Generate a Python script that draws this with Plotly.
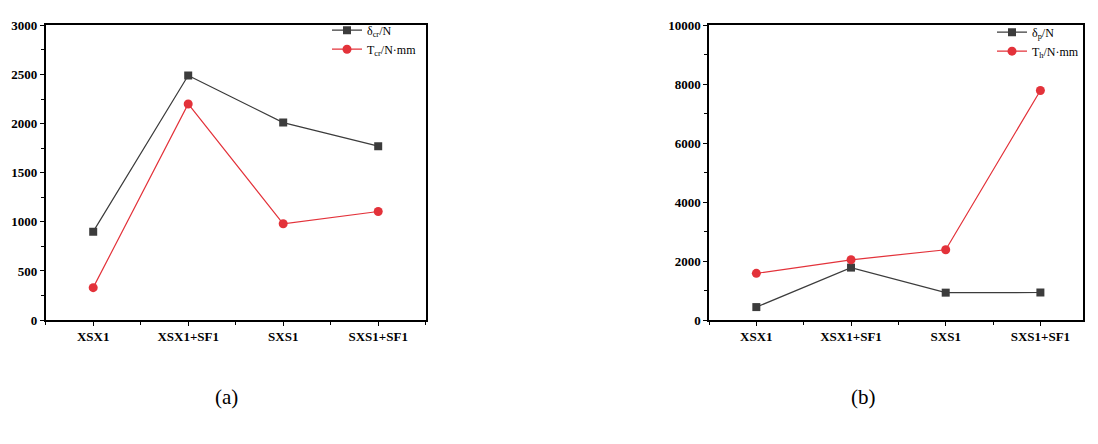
import plotly.graph_objects as go

categories = ["XSX1", "XSX1+SF1", "SXS1", "SXS1+SF1"]
a_delta_cr = [900, 2490, 2010, 1770]
a_T_cr = [330, 2200, 980, 1105]
b_delta_p = [440, 1780, 930, 935]
b_T_h = [1585, 2045, 2385, 7790]

names_a = ["δ<sub>cr</sub>/N", "T<sub>cr</sub>/N·mm"]
names_b = ["δ<sub>p</sub>/N", "T<sub>h</sub>/N·mm"]

BLACK = "#3c3c3c"
RED = "#e3323a"
FONT = "Liberation Serif"

xpos = list(range(len(categories)))

fig = go.Figure()
fig.add_trace(go.Scatter(x=xpos, y=a_delta_cr, name=names_a[0], mode="lines+markers",
                         line=dict(color=BLACK, width=1.2), marker=dict(symbol="square", size=8, color=BLACK),
                         xaxis="x", yaxis="y", legend="legend"))
fig.add_trace(go.Scatter(x=xpos, y=a_T_cr, name=names_a[1], mode="lines+markers",
                         line=dict(color=RED, width=1.2), marker=dict(symbol="circle", size=9, color=RED),
                         xaxis="x", yaxis="y", legend="legend"))
fig.add_trace(go.Scatter(x=xpos, y=b_delta_p, name=names_b[0], mode="lines+markers",
                         line=dict(color=BLACK, width=1.2), marker=dict(symbol="square", size=8, color=BLACK),
                         xaxis="x2", yaxis="y2", legend="legend2"))
fig.add_trace(go.Scatter(x=xpos, y=b_T_h, name=names_b[1], mode="lines+markers",
                         line=dict(color=RED, width=1.2), marker=dict(symbol="circle", size=9, color=RED),
                         xaxis="x2", yaxis="y2", legend="legend2"))

W, H = 1098, 444
def px_x(v): return v / W
def px_y(v): return 1 - v / H

axis_common = dict(showline=True, linecolor="black", linewidth=1.5, mirror=True, showgrid=False,
                   zeroline=False, ticks="outside", ticklen=4, tickwidth=1.2, tickcolor="black",
                   tickfont=dict(family=FONT, size=13, color="black", weight="bold"))

xa = dict(axis_common, tickmode="array", tickvals=xpos, ticktext=categories,
          minor=dict(ticks="outside", ticklen=3, tickcolor="black", showgrid=False, tick0=0.5, dtick=1))
fig.update_layout(
    width=W, height=H, margin=dict(l=0, r=0, t=0, b=0),
    paper_bgcolor="white", plot_bgcolor="white",
    showlegend=True,
    xaxis=dict(xa, domain=[px_x(45.7), px_x(425.7)], anchor="y", range=[-0.5, 3.5]),
    yaxis=dict(axis_common, domain=[px_y(324), px_y(19)], range=[0, 3000], dtick=500, tickformat="d",
               minor=dict(ticks="outside", ticklen=3, tickcolor="black", dtick=250), anchor="x"),
    xaxis2=dict(xa, domain=[px_x(709), px_x(1083)], anchor="y2", range=[-0.5, 3.45]),
    yaxis2=dict(axis_common, domain=[px_y(324), px_y(19)], range=[0, 10000], dtick=2000, tickformat="d",
                minor=dict(ticks="outside", ticklen=3, tickcolor="black", dtick=1000), anchor="x2"),
    legend=dict(x=px_x(327), y=px_y(9), xanchor="left", yanchor="top", bgcolor="rgba(0,0,0,0)",
                font=dict(family=FONT, size=12, color="black"), tracegroupgap=0),
    legend2=dict(x=px_x(992), y=px_y(11), xanchor="left", yanchor="top", bgcolor="rgba(0,0,0,0)",
                 font=dict(family=FONT, size=12, color="black"), tracegroupgap=0),
    annotations=[
        dict(text="(a)", x=px_x(213), y=px_y(418), xref="paper", yref="paper", showarrow=False,
             font=dict(family=FONT, size=21, color="black")),
        dict(text="(b)", x=px_x(878), y=px_y(418), xref="paper", yref="paper", showarrow=False,
             font=dict(family=FONT, size=21, color="black")),
    ],
)

fig.write_html("out.html")
